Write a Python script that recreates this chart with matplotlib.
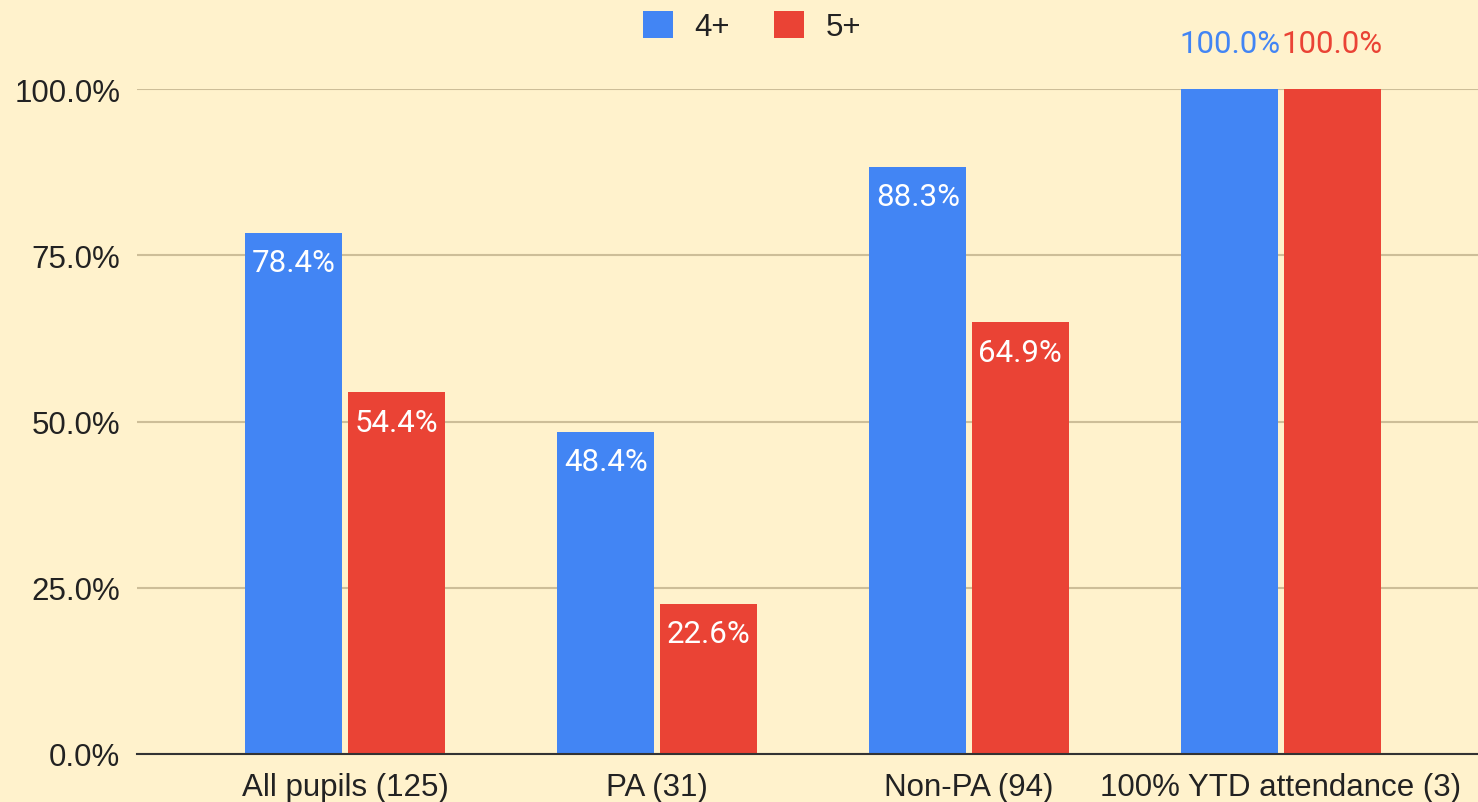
import matplotlib
matplotlib.use("Agg")
import matplotlib.pyplot as plt
import numpy as np

categories = ["All pupils (125)", "PA (31)", "Non-PA (94)", "100% YTD attendance (3)"]
series_names = ["4+", "5+"]
values_4 = [78.4, 48.4, 88.3, 100.0]
values_5 = [54.4, 22.6, 64.9, 100.0]
yticks = [0, 25, 50, 75, 100]

BG = "#FFF2CC"
BLUE = "#4285F4"
RED = "#EA4335"
GRID = "#CDBE98"
FS = 22.5

fig = plt.figure(figsize=(14.78, 8.03), dpi=100, facecolor=BG)
ax = fig.add_axes([137/1478, 1-755/803, 1-137/1478, (755-90)/803])
ax.set_facecolor(BG)

x = np.arange(len(categories))
w = 0.31
gap = 0.009
b1 = ax.bar(x - w/2 - gap, values_4, w, color=BLUE, label=series_names[0], zorder=3)
b2 = ax.bar(x + w/2 + gap, values_5, w, color=RED, label=series_names[1], zorder=3)

ax.set_ylim(0, 100)
ax.set_xlim((137-345)/312, (1478-345)/312)
ax.set_yticks(yticks)
ax.set_yticklabels([f"{v:.1f}%" for v in yticks], fontsize=FS, color="#222222", family="Liberation Sans")
ax.set_xticks(x)
ax.set_xticklabels(categories, fontsize=FS, color="#222222", family="Liberation Sans")
ax.tick_params(axis="both", length=0)
ax.tick_params(axis="y", pad=12)
ax.tick_params(axis="x", pad=13)
for s in ["top", "right", "left"]:
    ax.spines[s].set_visible(False)
ax.spines["bottom"].set_color("#333333")
ax.spines["bottom"].set_linewidth(1.5)
ax.spines["bottom"].set_zorder(4)
ax.yaxis.grid(True, color=GRID, linewidth=1.5, zorder=0)

for bars, vals, col in [(b1, values_4, BLUE), (b2, values_5, RED)]:
    for rect, v in zip(bars, vals):
        cx = rect.get_x() + rect.get_width()/2
        if v >= 99.9:
            ax.annotate(f"{v:.1f}%", (cx, v), xytext=(0, 22), textcoords="offset points",
                        ha="center", va="bottom", fontsize=FS, color=col, family="Roboto")
        else:
            ax.annotate(f"{v:.1f}%", (cx, v), xytext=(0, -11), textcoords="offset points",
                        ha="center", va="top", fontsize=FS, color="white", family="Roboto")

leg = fig.legend(handles=[b1, b2], labels=series_names, loc="upper center",
                 bbox_to_anchor=(752/1478, 1.02), ncol=2, frameon=False,
                 handlelength=0.95, handleheight=0.95, columnspacing=1.4, handletextpad=0.7,
                 prop={"family": "Liberation Sans", "size": FS})
for t in leg.get_texts():
    t.set_color("#222222")

fig.savefig("out.png", dpi=100, facecolor=BG)
